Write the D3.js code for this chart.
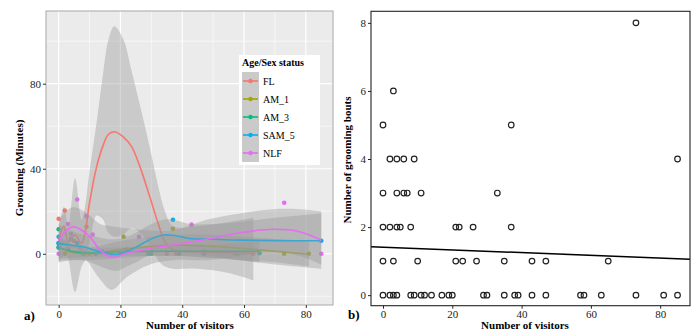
<!DOCTYPE html>
<html>
<head>
<meta charset="utf-8">
<script src="https://cdn.jsdelivr.net/npm/d3@7"></script>
<style>
  body { margin: 0; background: #fff; }
  svg text { font-family: "Liberation Serif", "Times New Roman", serif; }
</style>
</head>
<body>
<svg id="chart" width="692" height="331"></svg>
<script>
// ---- panel a) : grooming minutes by age/sex status ----
const groups = ['FL', 'AM_1', 'AM_3', 'SAM_5', 'NLF'];
const groupColors = ['#F8766D', '#A3A500', '#00BF7D', '#00B0F6', '#E76BF3'];

// observed points
const flX = [0, 2, 3, 5, 7, 9, 35, 38, 57, 63];
const flY = [16.5, 20.3, 2, 6, 3, 12.7, 0, 0, 0, 0];
const am1X = [0, 2, 10, 21, 30, 37, 47, 73, 81];
const am1Y = [3, 0, 0, 8, 1, 11.8, 0, 0, 0];
const am3X = [0, 0, 3, 8, 14, 20, 29, 30, 39, 47, 58, 65];
const am3Y = [11.5, 5, 2, 0, 1, 0, 0, 0, 0, 1, 0, 0.3];
const sam5X = [0, 0, 0, 4, 6, 12, 22, 37, 47, 85];
const sam5Y = [8, 5, 3, 7, 5, 0, 2, 16, 0, 6.1];
const nlfX = [0, 3, 4, 6, 9, 11, 17, 26, 43, 73, 85];
const nlfY = [0, 14, 9.3, 25.5, 17.7, 9, 0, 8, 13.7, 24, 0];

// loess fits (fit, lower, upper)
const flFitX = [0, 1.7, 3.1, 5.3, 7.4, 8.5, 10, 12.3, 14.4, 16, 18, 20.9, 23.6, 26.3, 29.5, 32.2, 34.4, 37, 45, 55, 63];
const flFit = [6.4, 13, 5.6, 8.8, 4.9, 9.6, 24, 41, 51, 56, 57.4, 55, 50.4, 41, 26.8, 14.3, 5.6, 2, 0.8, 0.4, 0.2];
const flLo = [1, 4, -2, -18, -6, -3, 5, 18, 16, 10, 8, 9, 12, 10, 4, -3, -6, -7, -7, -9, -12.5];
const flHi = [12, 22, 13, 35.5, 16, 22, 39, 62, 85, 100, 107, 101, 86, 70, 50, 32, 20, 13, 13, 15, 17];

const am1FitX = [0, 5, 10, 20, 30, 40, 50, 60, 70, 81];
const am1Fit = [3, 0.5, 0, 2, 3.5, 4, 3.5, 2.5, 1.2, -0.2];
const am1Lo = [-3, -3, -3, -2, -1, -1, -2, -3, -4, -6];
const am1Hi = [9, 4, 3, 6, 8, 9, 9, 8, 7, 6];

const am3FitX = [0, 5, 10, 20, 30, 40, 50, 65];
const am3Fit = [3, 1, 0.5, 1, 1.2, 1.2, 1.2, 1.2];
const am3Lo = [-2, -2, -1.5, -1, -1, -1, -2, -4];
const am3Hi = [8, 4, 3, 3, 3.4, 3.4, 4, 6];

const sam5FitX = [0, 4, 8, 12, 15.5, 19, 22, 26.3, 30, 33.9, 37, 42.5, 50, 58.7, 70, 85];
const sam5Fit = [4.9, 4, 3.3, 1.5, 0.2, -0.3, 1, 4.1, 7, 8.8, 8.7, 7.2, 6.8, 6.4, 6.2, 6.1];
const sam5Lo = [-4, -3, -3, -5, -7, -8, -6, -3, 0, 1, 1, 0, -1, -3, -5, -7];
const sam5Hi = [14, 11, 9, 8, 7, 7, 8, 11, 14, 16, 16, 14, 14, 15, 17, 19];

const nlfFitX = [0, 2.5, 4.7, 7, 10.1, 13.4, 17.1, 22, 29.5, 37, 47.9, 58.7, 69.4, 78, 85];
const nlfFit = [6, 11, 12.7, 11.5, 8, 1.7, -1.7, 0.2, 2.5, 4.1, 6.8, 9.9, 11.5, 10.4, 6.4];
const nlfLo = [-4, 1, 3, 1, -5, -12, -17, -11, -5, -3, -3, -1, 1, -1, -5];
const nlfHi = [16, 20, 22, 21, 18, 14, 13, 12, 11, 11, 16, 19, 21, 21, 20];

const ticksA_x = [0, 20, 40, 60, 80];
const minorA_x = [10, 30, 50, 70];
const ticksA_y = [0, 40, 80];
const minorA_y = [-20, 20, 60, 100];

// ---- panel b) : grooming bouts ----
const boutsX = [73, 3, 0, 37, 2, 4, 6, 9, 85, 0, 4, 6, 7, 11, 33,
  0, 2, 4, 5, 8, 21, 22, 26, 37,
  0, 3, 10, 21, 23, 27, 35, 43, 47, 65,
  0, 2, 3, 4, 8, 9, 11, 12, 14, 17, 19, 20, 29, 30, 35, 38, 39, 43, 47, 57, 58, 63, 73, 81, 85];
const boutsY = [8, 6, 5, 5, 4, 4, 4, 4, 4, 3, 3, 3, 3, 3, 3,
  2, 2, 2, 2, 2, 2, 2, 2, 2,
  1, 1, 1, 1, 1, 1, 1, 1, 1, 1,
  0, 0, 0, 0, 0, 0, 0, 0, 0, 0, 0, 0, 0, 0, 0, 0, 0, 0, 0, 0, 0, 0, 0, 0, 0];
const fitIntercept = 1.41;
const fitSlope = -0.004;
const ticksB_x = [0, 20, 40, 60, 80];
const ticksB_y = [0, 2, 4, 6, 8];

const svg = d3.select('#chart');

// ================= panel a =================
const xA = d3.scaleLinear().domain([-4.1, 88.8]).range([46, 333]);
const yA = d3.scaleLinear().domain([-24.1, 114.2]).range([305, 11]);

const pa = svg.append('g');
pa.append('rect')
  .attr('x', 46).attr('y', 11).attr('width', 287).attr('height', 294)
  .attr('fill', '#EBEBEB');

pa.append('defs').append('clipPath').attr('id', 'clipA')
  .append('rect').attr('x', 46).attr('y', 11).attr('width', 287).attr('height', 294);

// grid
pa.selectAll('.gminx').data(minorA_x).enter().append('line')
  .attr('x1', d => xA(d)).attr('x2', d => xA(d)).attr('y1', 11).attr('y2', 305)
  .attr('stroke', '#fff').attr('stroke-width', 0.6);
pa.selectAll('.gminy').data(minorA_y).enter().append('line')
  .attr('y1', d => yA(d)).attr('y2', d => yA(d)).attr('x1', 46).attr('x2', 333)
  .attr('stroke', '#fff').attr('stroke-width', 0.6);
pa.selectAll('.gmajx').data(ticksA_x).enter().append('line')
  .attr('x1', d => xA(d)).attr('x2', d => xA(d)).attr('y1', 11).attr('y2', 305)
  .attr('stroke', '#fff').attr('stroke-width', 1.2);
pa.selectAll('.gmajy').data(ticksA_y).enter().append('line')
  .attr('y1', d => yA(d)).attr('y2', d => yA(d)).attr('x1', 46).attr('x2', 333)
  .attr('stroke', '#fff').attr('stroke-width', 1.2);

const plot = pa.append('g').attr('clip-path', 'url(#clipA)');

const pointSets = [[flX, flY], [am1X, am1Y], [am3X, am3Y], [sam5X, sam5Y], [nlfX, nlfY]];
const fitSets = [
  [flFitX, flFit, flLo, flHi],
  [am1FitX, am1Fit, am1Lo, am1Hi],
  [am3FitX, am3Fit, am3Lo, am3Hi],
  [sam5FitX, sam5Fit, sam5Lo, sam5Hi],
  [nlfFitX, nlfFit, nlfLo, nlfHi]
];

// points go under the smooths
pointSets.forEach(([xs, ys], g) => {
  plot.selectAll('.pt' + g).data(xs).enter().append('circle')
    .attr('cx', d => xA(d)).attr('cy', (d, i) => yA(ys[i]))
    .attr('r', 2.3).attr('fill', groupColors[g]);
});

const area = d3.area().curve(d3.curveCatmullRom)
  .x(d => xA(d.x)).y0(d => yA(d.lo)).y1(d => yA(d.hi));
const line = d3.line().curve(d3.curveCatmullRom)
  .x(d => xA(d.x)).y(d => yA(d.y));

fitSets.forEach(([xs, fit, lo, hi], g) => {
  const rows = xs.map((x, i) => ({ x, y: fit[i], lo: lo[i], hi: hi[i] }));
  plot.append('path').datum(rows).attr('d', area)
    .attr('fill', '#999999').attr('fill-opacity', 0.4);
  plot.append('path').datum(rows).attr('d', line)
    .attr('fill', 'none').attr('stroke', groupColors[g]).attr('stroke-width', 1.6);
});

pa.append('rect')
  .attr('x', 46).attr('y', 11).attr('width', 287).attr('height', 294)
  .attr('fill', 'none').attr('stroke', '#A8A8A8').attr('stroke-width', 1);

// axes
const axA_x = pa.append('g').attr('transform', 'translate(0,305)')
  .call(d3.axisBottom(xA).tickValues(ticksA_x).tickSize(3).tickPadding(2));
const axA_y = pa.append('g').attr('transform', 'translate(46,0)')
  .call(d3.axisLeft(yA).tickValues(ticksA_y).tickSize(3).tickPadding(2));
[axA_x, axA_y].forEach(ax => {
  ax.select('.domain').remove();
  ax.selectAll('line').attr('stroke', '#333');
  ax.selectAll('text').attr('fill', '#222').attr('font-size', 11)
    .style('font-family', '"Liberation Serif", serif');
});

pa.append('text').attr('x', 190).attr('y', 329).attr('text-anchor', 'middle')
  .attr('font-size', 11).attr('font-weight', 'bold').text('Number of visitors');
pa.append('text').attr('transform', 'translate(23,168) rotate(-90)')
  .attr('text-anchor', 'middle').attr('font-size', 11).attr('font-weight', 'bold')
  .text('Grooming (Minutes)');
pa.append('text').attr('x', 24).attr('y', 320)
  .attr('font-size', 13).attr('font-weight', 'bold').text('a)');

// legend
const lg = pa.append('g').attr('transform', 'translate(239,55)');
lg.append('rect').attr('width', 81).attr('height', 110).attr('fill', '#fff');
lg.append('text').attr('x', 3).attr('y', 11).attr('font-size', 10)
  .attr('font-weight', 'bold').text('Age/Sex status');
groups.forEach((name, i) => {
  const k = lg.append('g').attr('transform', `translate(3,${17 + i * 18})`);
  k.append('rect').attr('width', 17).attr('height', 18).attr('fill', '#EBEBEB');
  k.append('rect').attr('width', 17).attr('height', 18).attr('fill', '#999999').attr('fill-opacity', 0.4);
  k.append('line').attr('x1', 1).attr('x2', 16).attr('y1', 9).attr('y2', 9)
    .attr('stroke', groupColors[i]).attr('stroke-width', 1.6);
  k.append('circle').attr('cx', 8.5).attr('cy', 9).attr('r', 2.2).attr('fill', groupColors[i]);
  k.append('text').attr('x', 21).attr('y', 12.5).attr('font-size', 10).text(name);
});

// ================= panel b =================
const xB = d3.scaleLinear().domain([-3.46, 88.6]).range([371, 690]);
const yB = d3.scaleLinear().domain([-0.31, 8.34]).range([305.7, 11.3]);

const pb = svg.append('g');
pb.append('defs').append('clipPath').attr('id', 'clipB')
  .append('rect').attr('x', 371).attr('y', 11.3).attr('width', 319).attr('height', 294.4);

const plotB = pb.append('g').attr('clip-path', 'url(#clipB)');
plotB.selectAll('circle').data(boutsX).enter().append('circle')
  .attr('cx', d => xB(d)).attr('cy', (d, i) => yB(boutsY[i]))
  .attr('r', 2.8).attr('fill', 'none').attr('stroke', '#222').attr('stroke-width', 1.2);

const dom = xB.domain();
plotB.append('path')
  .datum(dom.map(x => ({ x, y: fitIntercept + fitSlope * x })))
  .attr('d', d3.line().x(d => xB(d.x)).y(d => yB(d.y)))
  .attr('fill', 'none').attr('stroke', '#000').attr('stroke-width', 1.5);

pb.append('rect').attr('x', 371).attr('y', 11.3).attr('width', 319).attr('height', 294.4)
  .attr('fill', 'none').attr('stroke', '#222').attr('stroke-width', 1.1);

const axB_x = pb.append('g').attr('transform', 'translate(0,305.7)')
  .call(d3.axisBottom(xB).tickValues(ticksB_x).tickSize(3).tickPadding(2));
const axB_y = pb.append('g').attr('transform', 'translate(371,0)')
  .call(d3.axisLeft(yB).tickValues(ticksB_y).tickSize(3).tickPadding(2));
[axB_x, axB_y].forEach(ax => {
  ax.select('.domain').remove();
  ax.selectAll('line').attr('stroke', '#222');
  ax.selectAll('text').attr('fill', '#222').attr('font-size', 11)
    .style('font-family', '"Liberation Serif", serif');
});

pb.append('text').attr('x', 525).attr('y', 329).attr('text-anchor', 'middle')
  .attr('font-size', 11).attr('font-weight', 'bold').text('Number of visitors');
pb.append('text').attr('transform', 'translate(351,160) rotate(-90)')
  .attr('text-anchor', 'middle').attr('font-size', 11).attr('font-weight', 'bold')
  .text('Number of grooming bouts');
pb.append('text').attr('x', 348).attr('y', 319)
  .attr('font-size', 13).attr('font-weight', 'bold').text('b)');
</script>
</body>
</html>
